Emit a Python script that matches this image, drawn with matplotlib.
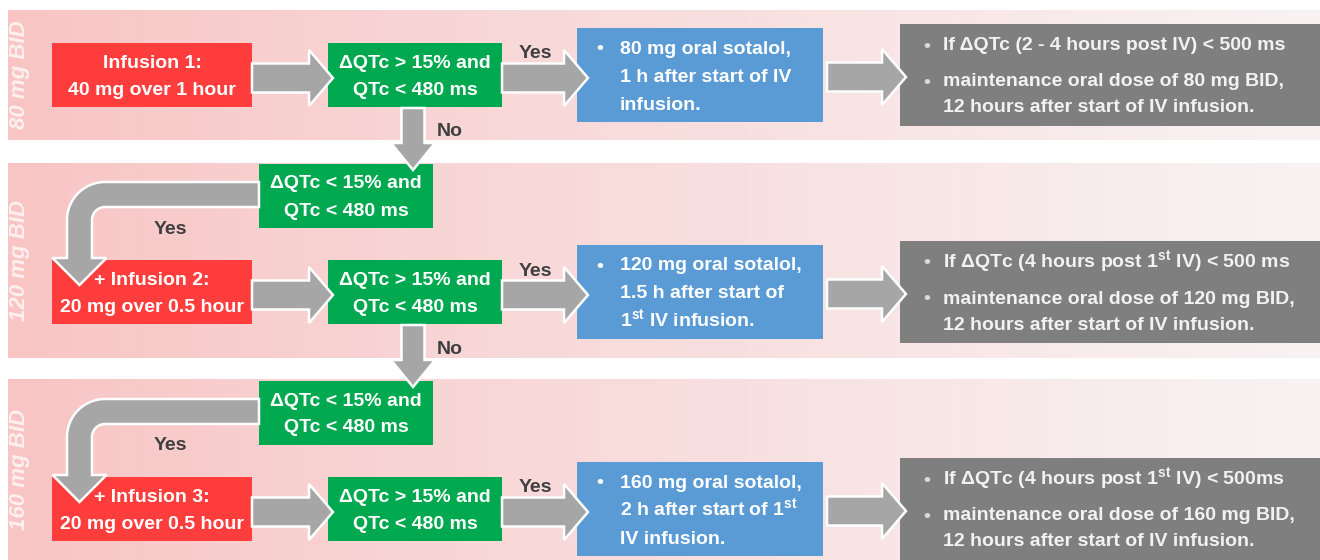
import matplotlib
matplotlib.use("Agg")
import matplotlib.pyplot as plt
import numpy as np
from matplotlib.patches import Rectangle, Polygon

plt.rcParams['font.family'] = ['Liberation Sans', 'DejaVu Sans']
plt.rcParams['font.weight'] = 'bold'
plt.rcParams['mathtext.fontset'] = 'custom'
plt.rcParams['mathtext.rm'] = 'Liberation Sans:bold'
plt.rcParams['mathtext.bf'] = 'Liberation Sans:bold'
plt.rcParams['mathtext.it'] = 'Liberation Sans:bold:italic'

# ---- content ----
dose_labels = ['80 mg BID', '120 mg BID', '160 mg BID']
infusion_lines = [
    ['Infusion 1:', '40 mg over 1 hour'],
    ['+ Infusion 2:', '20 mg over 0.5 hour'],
    ['+ Infusion 3:', '20 mg over 0.5 hour'],
]
check_lines = ['ΔQTc > 15% and', 'QTc < 480 ms']
retry_lines = ['ΔQTc < 15% and', 'QTc < 480 ms']
oral_lines = [
    ['80 mg oral sotalol,', '1 h after start of IV', 'infusion.'],
    ['120 mg oral sotalol,', '1.5 h after start of', r'1$^{\rm st}$ IV infusion.'],
    ['160 mg oral sotalol,', r'2 h after start of 1$^{\rm st}$', 'IV infusion.'],
]
maint_if = [
    'If ΔQTc (2 - 4 hours post IV) < 500 ms',
    r'If ΔQTc (4 hours post 1$^{\rm st}$ IV) < 500 ms',
    r'If ΔQTc (4 hours post 1$^{\rm st}$ IV) < 500ms',
]
maint_dose = [
    ['maintenance oral dose of 80 mg BID,', '12 hours after start of IV infusion.'],
    ['maintenance oral dose of 120 mg BID,', '12 hours after start of IV infusion.'],
    ['maintenance oral dose of 160 mg BID,', '12 hours after start of IV infusion.'],
]
yes_label = 'Yes'
no_label = 'No'

# ---- layout (pixels, y downwards) ----
W, H = 1320, 560
row_c = [75, 292, 509]
bands = [(10, 140), (163, 358), (379, 560)]
RED = '#ff3d3d'
GREEN = '#00a84f'
BLUE = '#5b9bd5'
DGRAY = '#7f7f7f'
ARROW = '#a6a6a6'
LABEL = '#404040'
FS = 14

fig = plt.figure(figsize=(W / 100, H / 100), dpi=100)
ax = fig.add_axes([0, 0, 1, 1])

# pink bands fading to the right
t = np.linspace(0, 1, 400) ** 0.9
left = np.array([249, 196, 196]) / 255
right = np.array([248, 243, 243]) / 255
grad = (left[None, :] * (1 - t[:, None]) + right[None, :] * t[:, None])[None, :, :]
for (y0, y1) in bands:
    ax.imshow(grad, extent=(8, W, y1, y0), aspect='auto', interpolation='bicubic', zorder=0)


def box(x0, x1, y0, y1, color):
    ax.add_patch(Rectangle((x0, y0), x1 - x0, y1 - y0, facecolor=color,
                           edgecolor='none', zorder=2))


def line(x, y, s, ha='center', color='white', fs=FS):
    ax.text(x, y + 6.5, s, ha=ha, va='baseline', color=color, fontsize=fs,
            fontweight='bold', zorder=5)


def harrow(x0, x1, y, body=14.5, head=28, hl=24):
    pts = [(x0, y - body), (x1 - hl, y - body), (x1 - hl, y - head), (x1, y),
           (x1 - hl, y + head), (x1 - hl, y + body), (x0, y + body)]
    ax.add_patch(Polygon(pts, closed=True, facecolor=ARROW, edgecolor='white',
                         lw=1.8, joinstyle='miter', zorder=4))


def varrow(x, y0, y1, body=11.5, head=22, hl=27):
    pts = [(x - body, y0), (x + body, y0), (x + body, y1 - hl), (x + head, y1 - hl),
           (x, y1), (x - head, y1 - hl), (x - body, y1 - hl)]
    ax.add_patch(Polygon(pts, closed=True, facecolor=ARROW, edgecolor='white',
                         lw=1.8, joinstyle='miter', zorder=4))


def bend_arrow(c):
    # horizontal from the retry box, bending down into the infusion box
    yt, yb = c - 110, c - 85
    cx, cy = 105, c - 72
    R, r = cy - yt, cy - yb
    th = np.linspace(np.pi / 2, np.pi, 30)
    outer = [(cx + R * np.cos(a), cy - R * np.sin(a)) for a in th]
    inner = [(cx + r * np.cos(a), cy - r * np.sin(a)) for a in th[::-1]]
    xm = cx - (R + r) / 2
    base, tip, hh = c - 34, c - 7, 27
    pts = [(259, yt)] + outer + [(cx - R, base), (xm - hh, base), (xm, tip),
                                 (xm + hh, base), (cx - r, base)] + inner + [(259, yb)]
    ax.add_patch(Polygon(pts, closed=True, facecolor=ARROW, edgecolor='white',
                         lw=1.8, joinstyle='miter', zorder=4))


for i, c in enumerate(row_c):
    b0, b1 = bands[i]
    ax.text(20, (b0 + b1) / 2, dose_labels[i], rotation=90, ha='center', va='center',
            fontsize=16, fontstyle='italic', fontweight='bold', color='#fff0f0',
            zorder=1)

    # infusion box
    box(52, 252, c - 32, c + 32, RED)
    line(152, c - 13.5, infusion_lines[i][0])
    line(152, c + 13.5, infusion_lines[i][1])

    # check box
    box(328, 502, c - 32, c + 32, GREEN)
    line(415, c - 13.5, check_lines[0])
    line(415, c + 13.5, check_lines[1])

    # oral dose box
    box(577, 823, c - 47, c + 47, BLUE)
    for k, s in enumerate(oral_lines[i]):
        if k == 0:
            line(600, c - 28, '•', ha='center')
        line(620, c - 28 + 28 * k, s, ha='left')

    # maintenance box
    box(900, W, c - 51, c + 51, DGRAY)
    line(927, c - 31, '•', color='#d9d9d9')
    line(943, c - 31, maint_if[i], ha='left', color='#f2f2f2')
    line(927, c + 5, '•', color='#d9d9d9')
    line(943, c + 5, maint_dose[i][0], ha='left', color='#f2f2f2')
    line(943, c + 31, maint_dose[i][1], ha='left', color='#f2f2f2')

    # arrows
    harrow(252, 333, c + 3)
    harrow(502, 588, c + 3)
    harrow(827, 906, c + 2)
    line(535, c - 23, yes_label, color=LABEL)

    if i < 2:
        varrow(413, c + 33, row_c[i + 1] - 122)
        line(450, c + 55, no_label, color=LABEL)

    if i > 0:
        box(259, 433, c - 128, c - 64, GREEN)
        line(346, c - 110, retry_lines[0])
        line(346, c - 83, retry_lines[1])
        bend_arrow(c)
        line(170, c - 65, yes_label, color=LABEL)

ax.set_xlim(0, W)
ax.set_ylim(H, 0)
ax.axis('off')
fig.savefig('out.png', dpi=100, facecolor='white')
